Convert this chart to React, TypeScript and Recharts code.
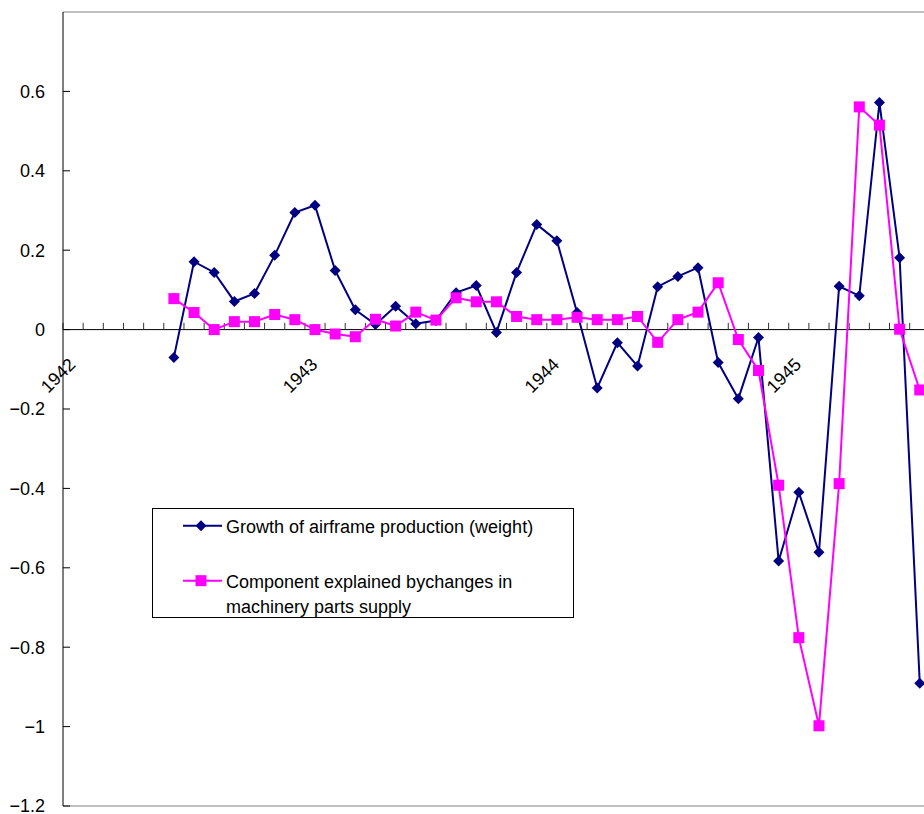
import { LineChart, Line, XAxis, YAxis, ReferenceLine, ReferenceDot, Legend } from "recharts";

// monthly categories, Jan 1942 .. Aug 1945
const months = [
  "1942-01", "1942-02", "1942-03", "1942-04", "1942-05", "1942-06", "1942-07", "1942-08", "1942-09", "1942-10", "1942-11", "1942-12",
  "1943-01", "1943-02", "1943-03", "1943-04", "1943-05", "1943-06", "1943-07", "1943-08", "1943-09", "1943-10", "1943-11", "1943-12",
  "1944-01", "1944-02", "1944-03", "1944-04", "1944-05", "1944-06", "1944-07", "1944-08", "1944-09", "1944-10", "1944-11", "1944-12",
  "1945-01", "1945-02", "1945-03", "1945-04", "1945-05", "1945-06", "1945-07", "1945-08",
];

const airframe = [
  null, null, null, null, null, -0.07, 0.171, 0.144, 0.071, 0.091, 0.187, 0.295,
  0.313, 0.149, 0.05, 0.013, 0.059, 0.015, 0.023, 0.093, 0.111, -0.007, 0.144, 0.265,
  0.224, 0.043, -0.147, -0.033, -0.092, 0.108, 0.134, 0.156, -0.083, -0.174, -0.02, -0.583,
  -0.41, -0.561, 0.109, 0.085, 0.572, 0.181, -0.891, null,
];

const parts = [
  null, null, null, null, null, 0.078, 0.043, 0.0, 0.02, 0.02, 0.038, 0.025,
  0.0, -0.011, -0.018, 0.026, 0.009, 0.044, 0.024, 0.08, 0.07, 0.07, 0.033, 0.025,
  0.025, 0.031, 0.025, 0.025, 0.033, -0.032, 0.025, 0.044, 0.118, -0.025, -0.103, -0.392,
  -0.776, -0.998, -0.388, 0.561, 0.515, 0.001, -0.152, null,
];

const yTicks = [-1.2, -1, -0.8, -0.6, -0.4, -0.2, 0, 0.2, 0.4, 0.6];
const yearMonths = ["1942-01", "1943-01", "1944-01", "1945-01"];
const yearNames = ["1942", "1943", "1944", "1945"];

const seriesNames = [
  "Growth of airframe production (weight)",
  "Component explained bychanges in machinery parts supply",
];

const data = months.map((m, i) => ({ month: m, airframe: airframe[i], parts: parts[i] }));

const NAVY = "#000080";
const PINK = "#FF00FF";
const FONT = "'Liberation Sans', Arial, sans-serif";

const fmt = (v: number) => (v < 0 ? "\u2212" + Math.abs(v) : String(v));

const Diamond = (props: any) => {
  const { cx, cy, value } = props;
  if (cx == null || cy == null || value == null) return null;
  return <path d={`M${cx},${cy - 5.5}L${cx + 5.5},${cy}L${cx},${cy + 5.5}L${cx - 5.5},${cy}Z`} fill={NAVY} />;
};

const Square = (props: any) => {
  const { cx, cy, value } = props;
  if (cx == null || cy == null || value == null) return null;
  return <rect x={cx - 5.5} y={cy - 5.5} width={11} height={11} fill={PINK} />;
};

const YTick = (props: any) => {
  const { x, y, payload } = props;
  return (
    <g>
      <line x1={x} x2={x + 7} y1={y} y2={y} stroke="#000" />
      <text x={x - 18} y={y} dy="0.36em" textAnchor="end" fontSize={18} fill="#000" fontFamily={FONT}>
        {fmt(payload.value)}
      </text>
    </g>
  );
};

const yearLabel = (text: string) => (props: any) => {
  const { viewBox } = props;
  const x = viewBox.x + 3.5;
  const y = viewBox.y + 36;
  return (
    <text x={x} y={y} textAnchor="end" fontSize={18} fill="#000" fontFamily={FONT} transform={`rotate(-45, ${x}, ${y})`}>
      {text}
    </text>
  );
};

const LegendBox = () => (
  <svg width={422} height={110} style={{ display: "block" }}>
    <rect x={0.5} y={0.5} width={421} height={109} fill="#fff" stroke="#000" />
    <line x1={31} x2={70} y1={17.7} y2={17.7} stroke={NAVY} strokeWidth={2} />
    <path d="M49,12.2L54.5,17.7L49,23.2L43.5,17.7Z" fill={NAVY} />
    <text x={74} y={24.7} fontSize={18} fontFamily={FONT} fill="#000">{seriesNames[0]}</text>
    <line x1={31} x2={70} y1={72.7} y2={72.7} stroke={PINK} strokeWidth={2} />
    <rect x={43.5} y={67.2} width={11} height={11} fill={PINK} />
    <text x={74} y={80.3} fontSize={18} fontFamily={FONT} fill="#000">Component explained bychanges in</text>
    <text x={74} y={104.7} fontSize={18} fontFamily={FONT} fill="#000">machinery parts supply</text>
  </svg>
);

const App = () => {
  return (
    <div style={{ position: "absolute", left: 0, top: 0, width: 924, height: 814, overflow: "hidden", background: "#fff", fontFamily: FONT }}>
      <LineChart width={970} height={814} data={data} margin={{ top: 12, right: 20, bottom: 8, left: 0 }}>
        <XAxis dataKey="month" type="category" scale="band" hide />
        <YAxis
          type="number"
          domain={[-1.2, 0.8]}
          ticks={yTicks}
          interval={0}
          width={63}
          tickSize={0}
          tickMargin={0}
          tickLine={false}
          axisLine={{ stroke: "#000" }}
          tick={<YTick />}
          allowDataOverflow
        />
        <ReferenceLine y={0.8} stroke="#808080" />
        <ReferenceLine y={-1.2} stroke="#808080" />
        <ReferenceLine y={0} stroke="#000" />
        {months.map((m) => (
          <ReferenceLine key={m} segment={[{ x: m, y: 0 }, { x: m, y: 0.017 }]} position="start" stroke="#333" />
        ))}
        {yearMonths.map((m, i) => (
          <ReferenceDot key={m} x={m} y={0} r={0} fill="none" stroke="none" label={{ content: yearLabel(yearNames[i]) }} />
        ))}
        <Legend
          layout="horizontal"
          verticalAlign="middle"
          align="center"
          content={() => <LegendBox />}
          wrapperStyle={{ position: "absolute", left: 152, top: 508, width: 422, height: 110 }}
        />
        <Line
          type="linear"
          dataKey="airframe"
          name={seriesNames[0]}
          stroke={NAVY}
          strokeWidth={2}
          dot={<Diamond />}
          activeDot={false}
          isAnimationActive={false}
        />
        <Line
          type="linear"
          dataKey="parts"
          name={seriesNames[1]}
          stroke={PINK}
          strokeWidth={2}
          dot={<Square />}
          activeDot={false}
          isAnimationActive={false}
        />
      </LineChart>
    </div>
  );
};

export default App;
